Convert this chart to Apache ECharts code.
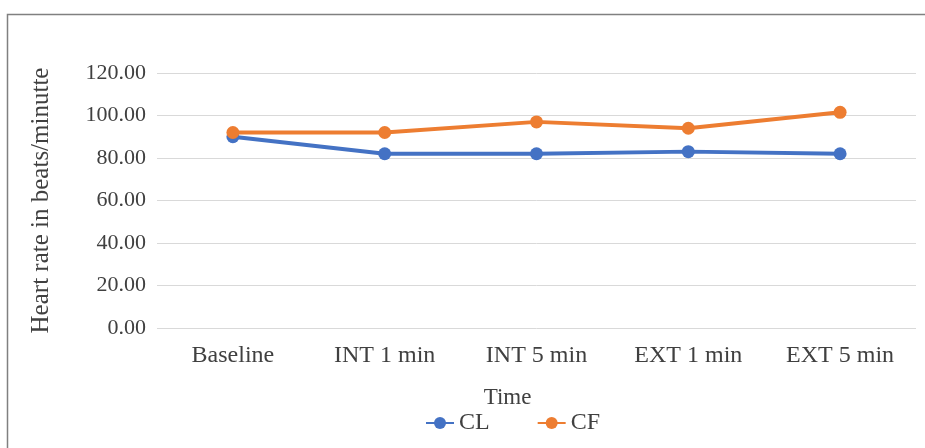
<!DOCTYPE html>
<html>
<head>
<meta charset="utf-8">
<script src="https://cdn.jsdelivr.net/npm/echarts@6/dist/echarts.min.js"></script>
<style>html,body{margin:0;padding:0;background:#fff;}#c{width:925px;height:448px;}</style>
</head>
<body>
<div id="c"></div>
<script>
const categories = ['Baseline', 'INT 1 min', 'INT 5 min', 'EXT 1 min', 'EXT 5 min'];
const clValues = [90, 82, 82, 83, 82];
const cfValues = [92, 92, 97, 94, 101.5];
const seriesNames = ['CL', 'CF'];
const yTicks = [0, 20, 40, 60, 80, 100, 120];

const font = 'Liberation Serif';
const chart = echarts.init(document.getElementById('c'));
chart.setOption({
  animation: false,
  backgroundColor: '#fff',
  textStyle: { fontFamily: font },
  graphic: [{
    type: 'rect', left: 5, top: 12, silent: true,
    shape: { width: 1000, height: 1000 },
    style: { fill: 'none', stroke: '#808080', lineWidth: 1.5 }
  }],
  grid: { left: 157, right: 9, top: 73, bottom: 120 },
  legend: {
    data: seriesNames,
    left: 420, top: 406,
    itemWidth: 28, itemHeight: 15, itemGap: 47,
    textStyle: { fontFamily: font, fontSize: 24, color: '#404040' }
  },
  xAxis: {
    type: 'category', data: categories,
    name: 'Time', nameLocation: 'middle', nameGap: 58,
    nameTextStyle: { fontFamily: font, fontSize: 23, color: '#404040', padding: [0, 58, 0, 0] },
    axisLine: { show: false }, axisTick: { show: false },
    axisLabel: { fontFamily: font, fontSize: 24, color: '#404040', margin: 16 }
  },
  yAxis: {
    type: 'value', min: yTicks[0], max: yTicks[yTicks.length - 1], interval: 20,
    name: 'Heart rate in beats/minutte', nameLocation: 'middle', nameGap: 103,
    nameTextStyle: { fontFamily: font, fontSize: 25, color: '#404040' },
    axisLine: { show: false }, axisTick: { show: false },
    splitLine: { lineStyle: { color: '#d9d9d9', width: 1 } },
    axisLabel: { fontFamily: font, fontSize: 22, color: '#404040', margin: 11,
      formatter: v => v.toFixed(2) }
  },
  series: [
    { name: seriesNames[0], type: 'line', data: clValues, symbol: 'circle', symbolSize: 13,
      lineStyle: { width: 4, color: '#4472C4' }, itemStyle: { color: '#4472C4' } },
    { name: seriesNames[1], type: 'line', data: cfValues, symbol: 'circle', symbolSize: 13,
      lineStyle: { width: 4, color: '#ED7D31' }, itemStyle: { color: '#ED7D31' } }
  ]
});
</script>
</body>
</html>
